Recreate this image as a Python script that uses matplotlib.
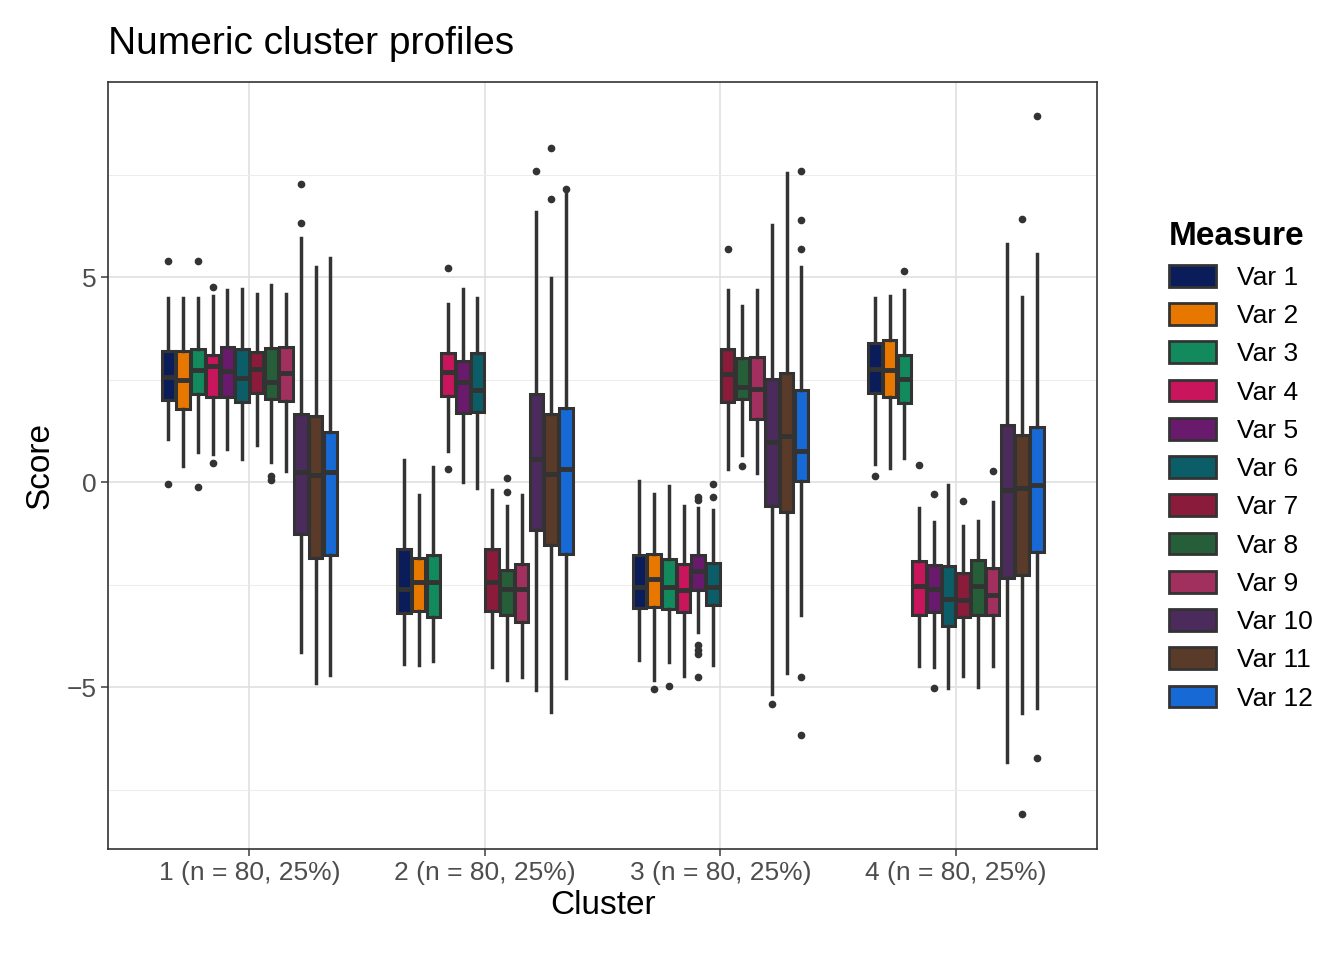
import matplotlib.pyplot as plt
from matplotlib.patches import Patch

clusters = ["1 (n = 80, 25%)", "2 (n = 80, 25%)", "3 (n = 80, 25%)", "4 (n = 80, 25%)"]
measures = [f"Var {i}" for i in range(1, 13)]
colors = ["#0b1c5a", "#e87700", "#128a5e", "#c8155c", "#6a1a6c", "#0b5d68",
          "#8a1b3b", "#275e3a", "#a2305f", "#4a2b5b", "#5a3a28", "#1769d6"]

# per cluster, per measure
q1 = [[2.0, 1.78, 2.15, 2.07, 2.07, 1.95, 2.17, 2.02, 1.98, -1.27, -1.85, -1.78],
      [-3.2, -3.15, -3.29, 2.09, 1.68, 1.7, -3.15, -3.24, -3.42, -1.17, -1.53, -1.76],
      [-3.08, -3.04, -3.1, -3.17, -2.64, -3.0, 1.96, 2.02, 1.53, -0.58, -0.74, 0.02],
      [2.18, 2.07, 1.93, -3.24, -3.18, -3.5, -3.3, -3.24, -3.24, -2.33, -2.27, -1.7]]
med = [[2.56, 2.5, 2.73, 2.83, 2.7, 2.54, 2.75, 2.44, 2.65, 0.25, 0.17, 0.25],
       [-2.6, -2.43, -2.43, 2.68, 2.43, 2.25, -2.43, -2.61, -2.61, 0.57, 0.2, 0.33],
       [-2.55, -2.37, -2.55, -2.62, -2.18, -2.55, 2.63, 2.33, 2.27, 0.98, 1.12, 0.75],
       [2.75, 2.73, 2.52, -2.53, -2.61, -2.84, -2.88, -2.53, -2.76, -0.2, -0.14, -0.06]]
q3 = [[3.2, 3.2, 3.25, 3.1, 3.3, 3.24, 3.17, 3.27, 3.3, 1.66, 1.61, 1.22],
      [-1.62, -1.85, -1.77, 3.14, 2.96, 3.14, -1.62, -2.14, -2.0, 2.16, 1.67, 1.81],
      [-1.77, -1.75, -1.88, -2.0, -1.77, -1.97, 3.25, 3.03, 3.06, 2.52, 2.66, 2.25],
      [3.39, 3.47, 3.09, -1.93, -2.02, -2.05, -2.22, -1.91, -2.1, 1.4, 1.16, 1.34]]
whi_lo = [[1.05, 0.4, 0.73, 0.68, 0.8, 0.56, 0.9, 0.49, 0.27, -4.15, -4.9, -4.7],
          [-4.44, -4.46, -4.37, 0.77, 0.0, -0.14, -4.5, -4.82, -4.75, -5.06, -5.61, -4.77],
          [-4.34, -4.83, -4.4, -4.72, -3.65, -4.46, 0.31, 0.66, 0.22, -5.17, -4.66, -3.24],
          [0.45, 0.34, 0.59, -4.49, -4.52, -5.02, -4.72, -5.0, -4.49, -6.82, -5.63, -5.51]]
whi_hi = [[4.5, 4.5, 4.5, 4.55, 4.68, 4.7, 4.6, 4.8, 4.6, 5.95, 5.25, 5.46],
          [0.53, -0.32, 0.36, 4.35, 4.71, 4.5, -0.2, -0.59, -0.32, 6.58, 4.98, 7.14],
          [0.02, -0.28, -0.1, -0.58, -0.62, -0.69, 4.68, 4.3, 4.68, 6.28, 7.54, 5.25],
          [4.49, 4.55, 4.68, -0.63, -0.97, -0.08, -1.08, -0.94, -0.48, 5.8, 4.51, 5.57]]
outliers = [[[5.4, -0.05], [], [5.4, -0.12], [4.76, 0.46], [], [], [], [0.15, 0.05], [],
             [7.27, 6.32], [], []],
            [[], [], [], [5.23, 0.32], [], [], [], [0.11, -0.25], [],
             [7.6], [8.14, 6.9], [7.15]],
            [[], [-5.05], [-4.98], [], [-0.37, -0.44, -3.97, -4.1, -4.2, -4.75], [-0.04, -0.37],
             [5.69], [0.4], [], [-5.41], [], [7.58, 6.39, 5.69, -4.75, -6.17]],
            [[0.16], [], [5.14], [0.42], [-0.28, -5.02], [], [-0.45], [], [0.26],
             [], [6.41, -8.1], [8.92, -6.73]]]

plt.rcParams['font.family'] = ['Liberation Sans', 'DejaVu Sans']
fig = plt.figure(figsize=(13.44, 9.6), dpi=100)
ax = fig.add_axes([0.0804, 0.1156, 0.7359, 0.799])

n = len(measures)
step = 0.75 / n
line_c = "#333333"
for c in range(len(clusters)):
    for v in range(n):
        st = dict(med=med[c][v], q1=q1[c][v], q3=q3[c][v],
                  whislo=whi_lo[c][v], whishi=whi_hi[c][v], fliers=outliers[c][v])
        pos = c + 1 + (v - (n - 1) / 2) * step
        ax.bxp([st], positions=[pos], widths=step * 0.92, patch_artist=True,
               showcaps=False, manage_ticks=False,
               boxprops=dict(facecolor=colors[v], edgecolor=line_c, linewidth=2.2),
               medianprops=dict(color=line_c, linewidth=3.5),
               whiskerprops=dict(color=line_c, linewidth=2.5),
               flierprops=dict(marker='o', markerfacecolor=line_c, markeredgecolor=line_c,
                               markersize=4.5))

ax.set_xlim(0.4, 4.6)
ax.set_ylim(-8.95, 9.76)
ax.set_xticks(range(1, 5))
ax.set_xticklabels(clusters)
ax.set_yticks([-5, 0, 5])
ax.set_yticks([-7.5, -2.5, 2.5, 7.5], minor=True)
ax.grid(True, which='major', color='#e0e0e0', linewidth=1.2)
ax.grid(True, which='minor', axis='y', color='#ececec', linewidth=0.7)
ax.set_axisbelow(True)
for s in ax.spines.values():
    s.set_color('#333333')
    s.set_linewidth(1.2)
ax.tick_params(axis='both', labelsize=19, colors='#4d4d4d', length=5, width=1.2)
ax.tick_params(which='minor', length=0)
ax.set_xlabel("Cluster", fontsize=24, labelpad=4)
ax.set_ylabel("Score", fontsize=24, labelpad=8)
ax.set_title("Numeric cluster profiles", fontsize=28, loc='left', pad=20)

handles = [Patch(facecolor=col, edgecolor=line_c, linewidth=2) for col in colors]
leg = fig.legend(handles, measures, loc='center left', bbox_to_anchor=(0.852, 0.515),
                 frameon=False, fontsize=19, title="Measure",
                 title_fontproperties=dict(weight='bold', size=24),
                 handlelength=1.8, handleheight=0.9, labelspacing=0.5, alignment='left')

fig.savefig("out.png", dpi=100)
